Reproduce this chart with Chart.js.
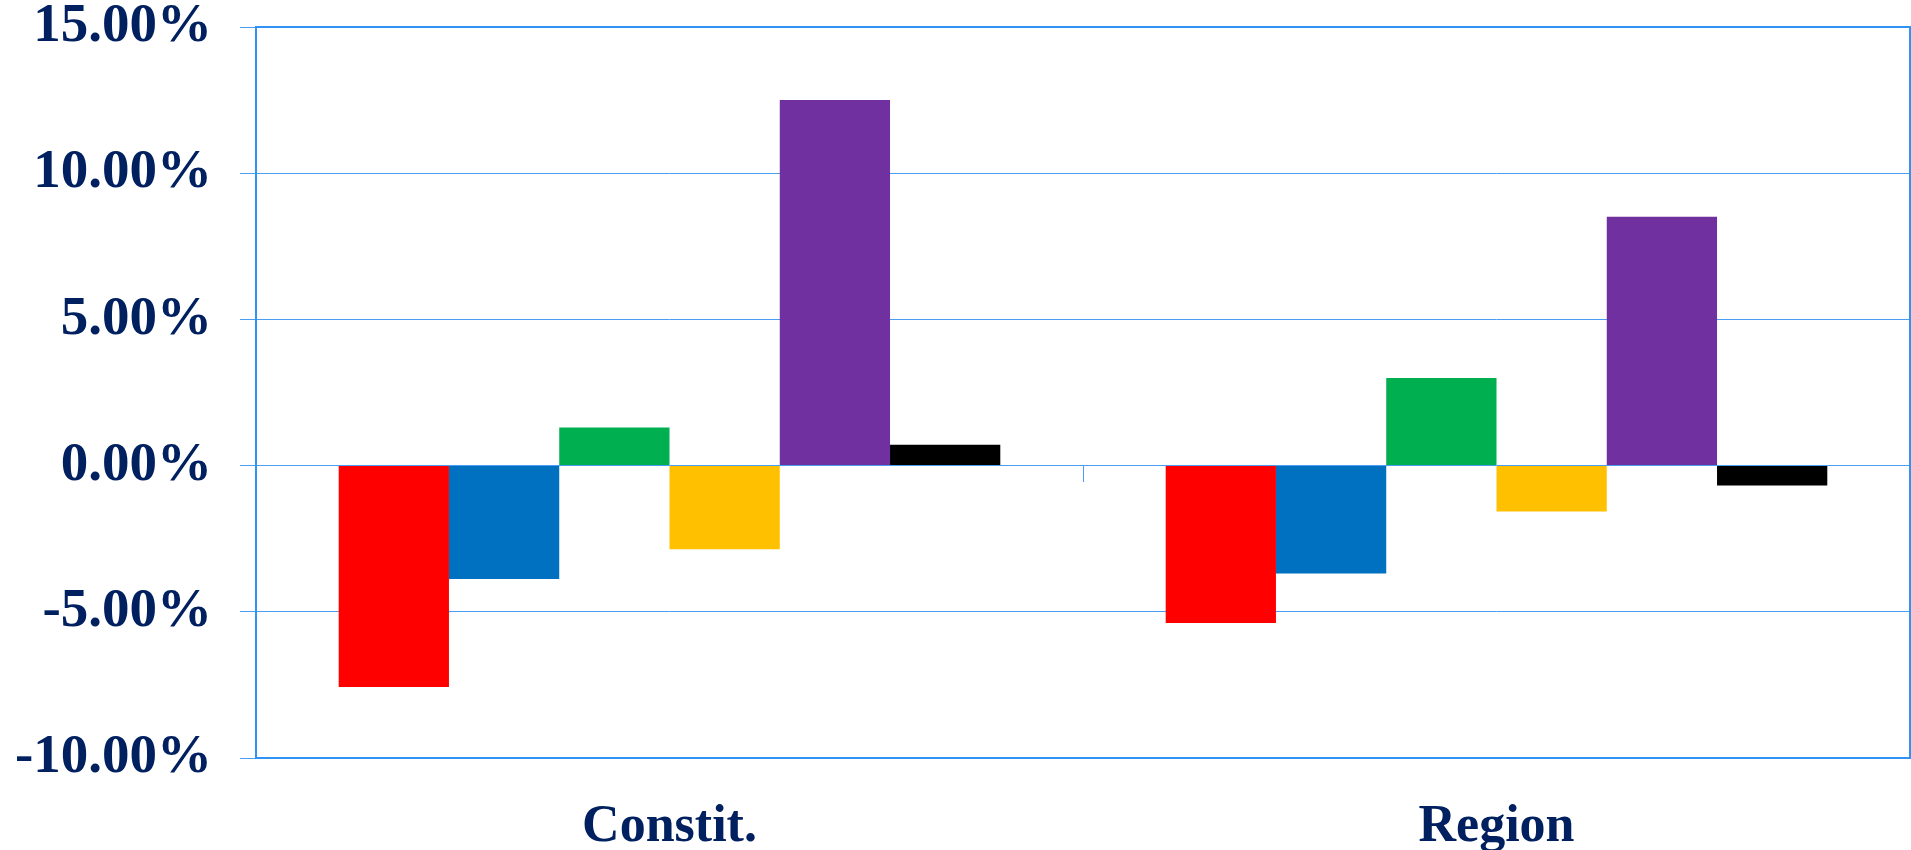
<!DOCTYPE html>
<html>
<head>
<meta charset="utf-8">
<script src="https://cdn.jsdelivr.net/npm/chart.js@4.4.1/dist/chart.umd.min.js"></script>
<style>
  html, body { margin: 0; padding: 0; background: #fff; }
  #wrap { width: 1911px; height: 850px; }
</style>
</head>
<body>
<div id="wrap"><canvas id="voteChart" width="1911" height="850"></canvas></div>
<script>
// Change in share by series, two groups
const categories = ['Constit.', 'Region'];
const seriesNames = ['Series 1', 'Series 2', 'Series 3', 'Series 4', 'Series 5', 'Series 6'];
const seriesColors = ['#FF0000', '#0070C0', '#00B050', '#FFC000', '#7030A0', '#000000'];
const redVals = [-7.57, -5.38];
const blueVals = [-3.88, -3.69];
const greenVals = [1.30, 3.00];
const yellowVals = [-2.86, -1.57];
const purpleVals = [12.50, 8.51];
const blackVals = [0.71, -0.68];
const yTicks = [-10, -5, 0, 5, 10, 15];

const gridColor = '#4A9EF2';
const frameColor = '#3092F5';
const labelColor = '#002060';
const serif = "'Liberation Serif', 'Times New Roman', serif";
const xFont = { family: serif, size: 52, weight: 'bold', lineHeight: 1 };
const yFont = { family: serif, size: 55, weight: 'bold', lineHeight: 1 };

const seriesValues = [redVals, blueVals, greenVals, yellowVals, purpleVals, blackVals];

// frame round the plot area
const areaBorder = {
  id: 'areaBorder',
  afterDraw(chart) {
    const { ctx, chartArea: a } = chart;
    ctx.save();
    ctx.strokeStyle = frameColor;
    ctx.lineWidth = 2;
    ctx.strokeRect(a.left, a.top, a.right - a.left, a.bottom - a.top);
    ctx.restore();
  }
};

new Chart(document.getElementById('voteChart'), {
  type: 'bar',
  data: {
    labels: categories,
    datasets: seriesValues.map((vals, i) => ({
      label: seriesNames[i],
      data: vals,
      backgroundColor: seriesColors[i],
      borderWidth: 0,
      categoryPercentage: 0.8,
      barPercentage: 1.0
    }))
  },
  options: {
    responsive: false,
    animation: false,
    layout: { padding: { top: 27, right: 1, bottom: 0, left: 0 } },
    plugins: {
      legend: { display: false },
      tooltip: { enabled: false }
    },
    scales: {
      x: {
        position: 'bottom',
        grid: { display: false },
        border: { display: false },
        ticks: { color: labelColor, font: xFont, padding: 36, maxRotation: 0 },
        afterFit: s => { s.height = 92; }
      },
      x2: {
        type: 'category',
        position: { y: 0 },
        offset: true,
        grid: { offset: true, drawOnChartArea: false, drawTicks: true, tickLength: 16, color: gridColor, lineWidth: 1 },
        border: { display: false },
        ticks: { display: false }
      },
      y: {
        min: -10,
        max: 15,
        afterBuildTicks: s => { s.ticks = yTicks.map(v => ({ value: v })); },
        grid: { color: gridColor, lineWidth: 1, tickLength: 16 },
        border: { display: false },
        ticks: {
          color: labelColor,
          font: yFont,
          padding: 28,
          callback: v => v.toFixed(2) + '%'
        },
        afterFit: s => { s.width = 256; s.paddingTop = 0; s.paddingBottom = 0; }
      }
    }
  },
  plugins: [areaBorder]
});
</script>
</body>
</html>
